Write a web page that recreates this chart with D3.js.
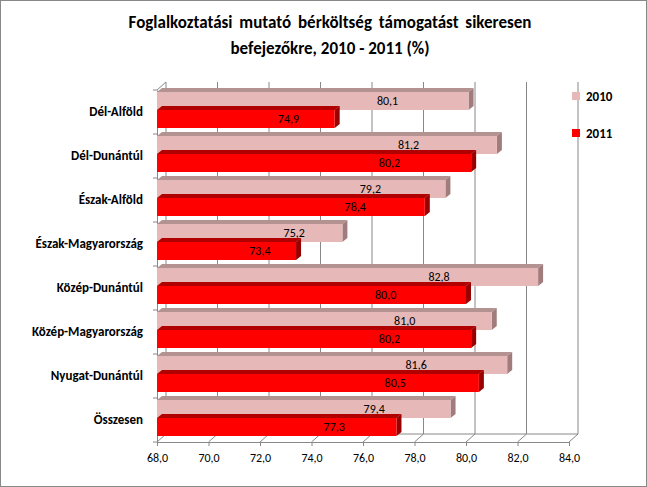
<!DOCTYPE html>
<html><head><meta charset="utf-8">
<script src="https://cdn.jsdelivr.net/npm/d3@7"></script>
<style>body{margin:0;background:#fff}svg{font-family:Calibri,Carlito,"Liberation Sans",Arial,sans-serif}</style>
</head><body>
<svg width="647" height="487"></svg>
<script>
var categories = ["Dél-Alföld", "Dél-Dunántúl", "Észak-Alföld", "Észak-Magyarország", "Közép-Dunántúl", "Közép-Magyarország", "Nyugat-Dunántúl", "Összesen"];
var values2010 = [80.1, 81.2, 79.2, 75.2, 82.8, 81.0, 81.6, 79.4];
var values2011 = [74.9, 80.2, 78.4, 73.4, 80.0, 80.2, 80.5, 77.3];
var seriesNames = ["2010", "2011"];
var xTicks = [68, 70, 72, 74, 76, 78, 80, 82, 84];

var svg = d3.select("svg");
svg.append("rect").attr("x", 0.5).attr("y", 0.5).attr("width", 646).attr("height", 486)
    .attr("fill", "#fff").attr("stroke", "#888");

var plotLeft = 157, plotRight = 569, plotTop = 90, plotBottom = 442;
var dx = 9, dy = 8; // wall depth
var bdx = 5, bdy = 4; // bar depth
var fmt = function (v) { return d3.format(".1f")(v).replace(".", ","); };

var x = d3.scaleLinear().domain([68, 84]).range([plotLeft, plotRight]);
var y = d3.scaleBand().domain(categories).range([plotTop, plotBottom]);

// title
svg.append("text").attr("x", 330).attr("y", 28).attr("text-anchor", "middle")
    .attr("font-size", 17).attr("font-weight", "bold").attr("word-spacing", 3).text("Foglalkoztatási mutató bérköltség támogatást sikeresen");
svg.append("text").attr("x", 330).attr("y", 54).attr("text-anchor", "middle")
    .attr("font-size", 17).attr("font-weight", "bold").text("befejezőkre, 2010 - 2011 (%)");

// back wall gridlines
var g = svg.append("g");
g.selectAll("line.grid").data(xTicks).enter().append("line")
    .attr("x1", function (d) { return x(d) + dx; }).attr("x2", function (d) { return x(d) + dx; })
    .attr("y1", plotTop - dy).attr("y2", plotBottom - dy).attr("stroke", "#888").attr("stroke-width", 1);
g.selectAll("line.diag").data(xTicks).enter().append("line")
    .attr("x1", function (d) { return x(d); }).attr("x2", function (d) { return x(d) + dx; })
    .attr("y1", plotBottom).attr("y2", plotBottom - dy).attr("stroke", "#888");
g.append("line").attr("x1", plotLeft).attr("x2", plotLeft + dx).attr("y1", plotTop).attr("y2", plotTop - dy).attr("stroke", "#888");
g.append("line").attr("x1", plotLeft + dx).attr("x2", plotRight + dx).attr("y1", plotBottom - dy).attr("y2", plotBottom - dy).attr("stroke", "#888");

// axes
svg.append("g").attr("transform", "translate(0," + plotBottom + ")")
    .call(d3.axisBottom(x).tickValues(xTicks).tickFormat(fmt).tickSize(4))
    .call(function (a) {
        a.select(".domain").attr("stroke", "#888");
        a.selectAll(".tick line").attr("stroke", "#888");
        a.selectAll("text").attr("font-size", 12).attr("font-family", "Calibri,Carlito,'Liberation Sans',sans-serif").attr("dy", "1.1em");
    });
svg.append("g").attr("transform", "translate(" + plotLeft + ",0)")
    .call(d3.axisLeft(y).tickSize(0).tickPadding(14))
    .call(function (a) {
        a.select(".domain").attr("stroke", "#888");
        a.selectAll("text").attr("font-size", 13).attr("font-weight", "bold").attr("font-family", "Calibri,Carlito,'Liberation Sans',sans-serif");
    });
svg.append("g").selectAll("line").data(categories.concat([null])).enter().append("line")
    .attr("x1", plotLeft - 4).attr("x2", plotLeft)
    .attr("y1", function (d, i) { return plotTop + i * y.bandwidth(); })
    .attr("y2", function (d, i) { return plotTop + i * y.bandwidth(); }).attr("stroke", "#888");

// bars
var series = [
    { name: seriesNames[0], values: values2010, fill: "#e6b8b7", topc: "#b49292", side: "#a07c7c", off: 2 },
    { name: seriesNames[1], values: values2011, fill: "#ff0000", topc: "#b00000", side: "#990000", off: 20 }
];
var bh = 18;
series.forEach(function (s) {
    var gs = svg.append("g");
    var bars = gs.selectAll("g").data(categories).enter().append("g");
    bars.append("polygon").attr("fill", s.topc).attr("points", function (d, i) {
        var y0 = y(d) + s.off, x1 = x(s.values[i]);
        return [[plotLeft, y0], [plotLeft + bdx, y0 - bdy], [x1 + bdx, y0 - bdy], [x1, y0]].join(" ");
    });
    bars.append("polygon").attr("fill", s.side).attr("points", function (d, i) {
        var y0 = y(d) + s.off, x1 = x(s.values[i]);
        return [[x1, y0], [x1 + bdx, y0 - bdy], [x1 + bdx, y0 + bh - bdy], [x1, y0 + bh]].join(" ");
    });
    bars.append("rect").attr("fill", s.fill).attr("x", plotLeft)
        .attr("y", function (d) { return y(d) + s.off; })
        .attr("width", function (d, i) { return x(s.values[i]) - plotLeft; }).attr("height", bh);
    bars.append("text").attr("font-size", 12).attr("text-anchor", "middle")
        .attr("font-family", "Calibri,Carlito,'Liberation Sans',sans-serif")
        .attr("x", function (d, i) { return plotLeft + 0.74 * (x(s.values[i]) - plotLeft); })
        .attr("y", function (d) { return y(d) + s.off + bh / 2 + 4; })
        .text(function (d, i) { return fmt(s.values[i]); });
});

// legend
var leg = svg.append("g").selectAll("g").data(series).enter().append("g")
    .attr("transform", function (d, i) { return "translate(572," + (92 + i * 37) + ")"; });
leg.append("rect").attr("width", 8).attr("height", 8).attr("fill", function (d) { return d.fill; });
leg.append("text").attr("x", 14).attr("y", 9).attr("font-size", 13).attr("font-weight", "bold")
    .attr("font-family", "Calibri,Carlito,'Liberation Sans',sans-serif").text(function (d) { return d.name; });
</script>
</body></html>
